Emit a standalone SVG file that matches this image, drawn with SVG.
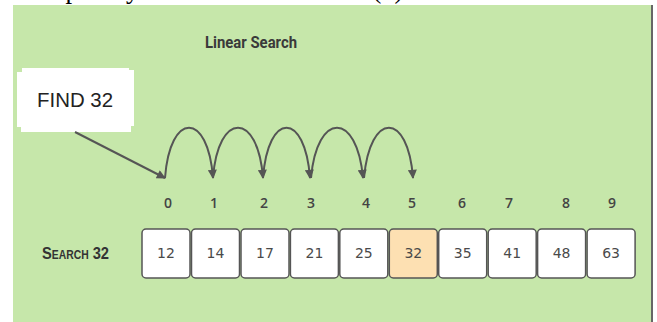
<svg xmlns="http://www.w3.org/2000/svg" width="657" height="322" viewBox="0 0 657 322">
<defs>
<marker id="ah" viewBox="0 0 10 10" refX="9" refY="5" markerWidth="11" markerHeight="9" markerUnits="userSpaceOnUse" orient="auto">
<path d="M0,0 L10,5 L0,10 z" fill="#555"/>
</marker>
<style>
.cell{fill:#fff;stroke:#555;stroke-width:1.5}
.hit{fill:#fde0b2}
.val{font-family:"DejaVu Sans",sans-serif;font-size:14px;fill:#4a4a4a;text-anchor:middle}
.idx{font-family:"Open Sans",sans-serif;font-size:14px;font-weight:600;fill:#444;text-anchor:middle}
.conn{fill:none;stroke:#555;stroke-width:2;marker-end:url(#ah)}
</style>
</defs>
<rect x="0" y="0" width="657" height="322" fill="#fff"/>
<text x="14" y="-2" font-family="Liberation Serif,serif" font-size="26.5" fill="#000">Complexity of Linear Search is O(n).</text>
<rect x="13" y="5" width="639" height="317" fill="#c6e7aa"/>
<line x1="652" y1="5" x2="652" y2="322" stroke="#666" stroke-width="2"/>
<g id="title">
<text x="251" y="48" font-family="Roboto,sans-serif" font-weight="bold" font-size="16" fill="#3a3a3a" text-anchor="middle" textLength="92" lengthAdjust="spacingAndGlyphs">Linear Search</text>
</g>
<g id="find">
<path d="M22,68 H129 V70 H134 V126 H131 V132 H21 V127 H17 V72 H22 Z" fill="#fff"/>
<text x="37" y="107" font-family="Liberation Sans,sans-serif" font-size="20" fill="#222" textLength="76" lengthAdjust="spacingAndGlyphs">FIND 32</text>
</g>
<g id="search-label">
<text x="42" y="259" font-family="Liberation Sans,sans-serif" font-weight="bold" font-size="17" font-variant="small-caps" fill="#333" textLength="67" lengthAdjust="spacingAndGlyphs">Search 32</text>
</g>
<g id="connectors">
<path class="conn" d="M75,132 L165,178"/>
<path class="conn" d="M165,178 C170,111 208,111 213,178"/>
<path class="conn" d="M213,178 C218,111 258,111 263,178"/>
<path class="conn" d="M263,178 C268,111 305,111 310,178"/>
<path class="conn" d="M311,178 C317,111 357,111 363,178"/>
<path class="conn" d="M364,178 C370,111 408,111 413,178"/>
</g>
<g id="indices">
<text class="idx" x="168" y="208">0</text>
<text class="idx" x="214" y="208">1</text>
<text class="idx" x="264" y="208">2</text>
<text class="idx" x="311" y="208">3</text>
<text class="idx" x="366" y="208">4</text>
<text class="idx" x="412" y="208">5</text>
<text class="idx" x="462" y="208">6</text>
<text class="idx" x="509" y="208">7</text>
<text class="idx" x="566" y="208">8</text>
<text class="idx" x="612" y="208">9</text>
</g>
<g id="cell0"><rect class="cell" x="142" y="229" width="48" height="49" rx="4"/><text class="val" x="166" y="258">12</text></g>
<g id="cell1"><rect class="cell" x="191.5" y="229" width="48" height="49" rx="4"/><text class="val" x="215.5" y="258">14</text></g>
<g id="cell2"><rect class="cell" x="241" y="229" width="48" height="49" rx="4"/><text class="val" x="265" y="258">17</text></g>
<g id="cell3"><rect class="cell" x="290.4" y="229" width="48" height="49" rx="4"/><text class="val" x="314.4" y="258">21</text></g>
<g id="cell4"><rect class="cell" x="339.8" y="229" width="48" height="49" rx="4"/><text class="val" x="363.8" y="258">25</text></g>
<g id="cell5"><rect class="cell hit" x="389.3" y="229" width="48" height="49" rx="4"/><text class="val" x="413.3" y="258">32</text></g>
<g id="cell6"><rect class="cell" x="438.7" y="229" width="48" height="49" rx="4"/><text class="val" x="462.7" y="258">35</text></g>
<g id="cell7"><rect class="cell" x="488.2" y="229" width="48" height="49" rx="4"/><text class="val" x="512.2" y="258">41</text></g>
<g id="cell8"><rect class="cell" x="537.6" y="229" width="48" height="49" rx="4"/><text class="val" x="561.6" y="258">48</text></g>
<g id="cell9"><rect class="cell" x="587.1" y="229" width="48" height="49" rx="4"/><text class="val" x="611.1" y="258">63</text></g>
</svg>
